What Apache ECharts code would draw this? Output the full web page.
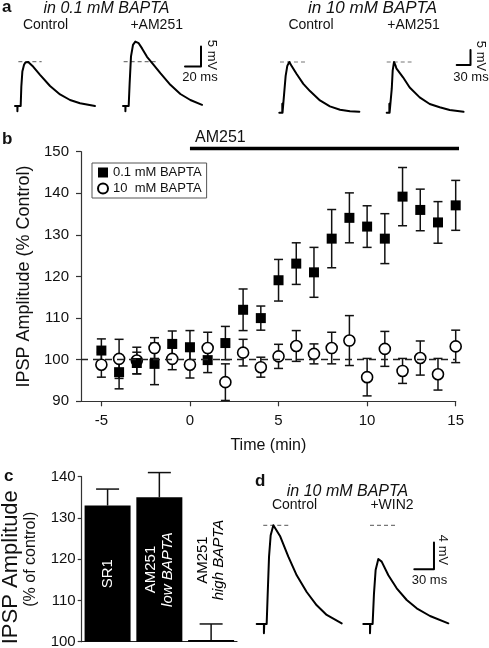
<!DOCTYPE html>
<html><head><meta charset="utf-8">
<script src="https://cdn.jsdelivr.net/npm/echarts@6/dist/echarts.min.js"></script>
<style>html,body{margin:0;padding:0;background:#fff}#c{width:489px;height:648px}</style>
</head><body><div id="c"></div>
<script>
const FONT = 'Liberation Sans, Arial, Helvetica, sans-serif';

// ---------- Panel b data ----------
const timeMin = [-5,-4,-3,-2,-1,0,1,2,3,4,5,6,7,8,9,10,11,12,13,14,15];
const lowBaptaMean = [102.2,97,99.2,99,103.8,103,99.9,104,112,110,119.1,123.1,121,129.1,134.1,132,129.1,139.2,136,133,137.1];
const lowBaptaErr  = [2.8,4,2.6,5,3.1,4,3,4,5,2.9,5,5,6,7,6,5,6,7,5,5,6];
const highBaptaMean = [98.8,100.2,99.8,102.8,100.2,98.8,102.8,94.6,101.7,98.2,100.8,103.3,101.4,102.8,104.6,95.8,102.6,97.3,100.4,96.5,103.2];
const highBaptaErr  = [3,4.7,3.2,2.5,2.6,3.2,3.8,4.4,3.2,2.4,2.9,3.7,2.4,3.8,6,4.5,4.2,3,4.1,3.8,3.9];
const timeTicks = [-5,0,5,10,15];
const am251Period = [0, 15.35];   // drug application (min)
const seriesNames = ['0.1 mM BAPTA', '10  mM BAPTA'];

// ---------- Panel c data ----------
const barCategories = ['SR1', 'AM251\nlow BAPTA', 'AM251\nhigh BAPTA'];
const barMean = [133, 135, 100.4];
const barErr = [4, 6, 3.9];

// ---------- Traces [ms, mV] ----------
const traceCtrlLow = [[0,0],[3,0],[3,-1.3],[3.2,0],[7.1,0],[7.9,4.8],[9.2,8.6],[11.3,10.3],[13,10.9],[14.6,11.1],[16.5,11],[18.8,10.7],[22.9,9.8],[31.3,7.8],[43.8,5.0],[56.3,2.9],[68.8,1.5],[81.3,0.7],[100,0]];
const traceAm251Low = [[0,0],[3,0],[3,-1.3],[3.2,0],[7.1,0],[8.3,5.7],[10,12.4],[12.5,15.3],[15.4,16.1],[19.6,15.7],[23.8,14.4],[30,12.3],[38.3,10.3],[46.7,8.2],[59.2,5.3],[71.7,3.0],[84.2,1.5],[98.8,0.3]];
const dashCtrlLow = [[4.2,11.1],[33.3,11.1]];
const dashAm251Low = [[0.8,11.1],[41.7,11.1]];
const scaleLow = [[0,0],[20,0],[20,5]];

const traceCtrlHigh = [[0,0],[6.5,0],[6.5,3],[7,0],[10.2,0],[13.8,12.3],[17.4,15.6],[21.7,16.9],[26.8,15.6],[37.7,12.9],[52.2,9.6],[66.7,7.2],[88.4,4.1],[110,2.1],[132,1.0],[153.7,0.5],[174,0.3]];
const traceAm251High = [[0,0],[5.8,0],[5.8,3],[6.3,0],[8.7,0],[11,8],[13,14],[15.9,16.9],[19,15.8],[21,14.8],[35.5,11.8],[50,8.4],[71.7,5.1],[93.5,2.9],[115.2,1.8],[137,0.9],[167,0.3]];
const dashCtrlHigh = [[1.5,16.9],[59.6,16.9]];
const dashAm251High = [[0,16.9],[54,16.9]];
const scaleHigh = [[0,0],[30,0],[30,5]];

const traceCtrlD = [[0,0],[11,0],[11,-1.4],[11.5,0],[15.2,0],[16.8,4.6],[18.8,10.1],[21.3,13.3],[25.4,14.8],[27.9,14.6],[35.5,13.2],[48.2,10.1],[61,7.3],[76.2,4.8],[91.5,2.8],[106.7,1.35],[129.6,0.1]];
const traceWin2 = [[0,0],[10.2,0],[10.2,-1.4],[10.7,0],[14.2,0],[16.3,4.6],[18.8,8.1],[22.9,9.75],[28,9.35],[38.2,7.3],[50.9,5.35],[66.2,3.6],[81.4,2.35],[101.7,1.2],[129.6,0.1]];
const dashCtrlD = [[10,14.8],[50.8,14.8]];
const dashWin2 = [[10.2,14.8],[48.3,14.8]];
const scaleD = [[0,0],[30,0],[30,4]];

// ---------- build ----------
const grid = [], xAxis = [], yAxis = [], series = [];
const axisLineStyle = {color:'#333', width:1.2};

function errRender(capHalf, upOnly) {
  return function (params, api) {
    const x = api.value(0), m = api.value(1), e = api.value(2);
    const top = api.coord([x, m + e]);
    const bot = api.coord([x, upOnly ? m : m - e]);
    const style = {stroke:'#111', lineWidth:1.5, fill:null};
    const ch = [
      {type:'line', shape:{x1:top[0], y1:top[1], x2:bot[0], y2:bot[1]}, style},
      {type:'line', shape:{x1:top[0]-capHalf, y1:top[1], x2:top[0]+capHalf, y2:top[1]}, style}
    ];
    if (!upOnly) ch.push({type:'line', shape:{x1:bot[0]-capHalf, y1:bot[1], x2:bot[0]+capHalf, y2:bot[1]}, style});
    return {type:'group', children:ch};
  };
}

// Panel b (grid 0)
grid.push({left:81, top:151.7, width:374.7, height:249.6, outerBoundsMode:'none'});
xAxis.push({gridIndex:0, type:'value', min:-6.15, max:15,
  axisLine:{show:true, onZero:false, lineStyle:axisLineStyle},
  axisTick:{show:true, customValues:timeTicks, length:5, lineStyle:axisLineStyle},
  axisLabel:{customValues:timeTicks, fontSize:15, margin:12, color:'#111', fontFamily:FONT},
  splitLine:{show:false},
  name:'Time (min)', nameLocation:'middle', nameGap:36,
  nameTextStyle:{fontSize:16, color:'#111', fontFamily:FONT}});
yAxis.push({gridIndex:0, type:'value', min:90, max:150, interval:10,
  axisLine:{show:true, onZero:false, lineStyle:axisLineStyle},
  axisTick:{show:true, length:5, lineStyle:axisLineStyle},
  axisLabel:{fontSize:15, margin:12, color:'#111', fontFamily:FONT},
  splitLine:{show:false},
  name:'IPSP Amplitude (% Control)', nameLocation:'middle', nameGap:46,
  nameTextStyle:{fontSize:18, color:'#111', fontFamily:FONT}});

series.push({type:'custom', xAxisIndex:0, yAxisIndex:0, z:2, renderItem:errRender(4.5, false),
  data: timeMin.map((t,i)=>[t, highBaptaMean[i], highBaptaErr[i]]),
  markLine:{silent:true, symbol:['none','none'], label:{show:false},
    lineStyle:{type:[7,5], color:'#222', width:1.3, opacity:1}, data:[{yAxis:100}]}});
series.push({type:'custom', xAxisIndex:0, yAxisIndex:0, z:2, renderItem:errRender(4.5, false),
  data: timeMin.map((t,i)=>[t, lowBaptaMean[i], lowBaptaErr[i]])});
series.push({type:'scatter', name:seriesNames[1], xAxisIndex:0, yAxisIndex:0, z:3,
  symbol:'circle', symbolSize:11,
  itemStyle:{color:'#fff', borderColor:'#000', borderWidth:1.6, opacity:1},
  data: timeMin.map((t,i)=>[t, highBaptaMean[i]])});
series.push({type:'scatter', name:seriesNames[0], xAxisIndex:0, yAxisIndex:0, z:4,
  symbol:'rect', symbolSize:10, itemStyle:{color:'#000', opacity:1},
  data: timeMin.map((t,i)=>[t, lowBaptaMean[i]])});
series.push({type:'line', xAxisIndex:0, yAxisIndex:0, z:5, clip:false, symbol:'none', silent:true,
  lineStyle:{color:'#000', width:3.5},
  data: am251Period.map(t=>[t, 150.75])});

// Panel c (grid 1)
grid.push({left:81.7, top:476.7, width:155.3, height:165, outerBoundsMode:'none'});
xAxis.push({gridIndex:1, type:'category', data:barCategories,
  axisLine:{show:true, lineStyle:{color:'#222', width:1.2}}, axisTick:{show:false}, axisLabel:{show:false}});
yAxis.push({gridIndex:1, type:'value', min:100, max:140, interval:10,
  axisLine:{show:true, onZero:false, lineStyle:axisLineStyle},
  axisTick:{show:true, length:4, lineStyle:axisLineStyle},
  axisLabel:{fontSize:15, margin:6, color:'#111', fontFamily:FONT},
  splitLine:{show:false},
  name:'{a|IPSP Amplitude}\n{b|(% of control)}', nameLocation:'middle', nameGap:42,
  nameTextStyle:{fontFamily:FONT, color:'#111',
    rich:{a:{fontSize:22, lineHeight:22, fontFamily:FONT, color:'#111', padding:[0,16,0,0]},
          b:{fontSize:16, lineHeight:18, fontFamily:FONT, color:'#111'}}}});

function barLabelText(cat) {
  const p = cat.split('\n');
  return p.length === 1 ? '{n|' + p[0] + '}' : '{n|' + p[0] + '}\n{i|' + p[1] + '}';
}
function labelRich(col) {
  return {n:{fontSize:15, fontFamily:FONT, color:col, lineHeight:16},
          i:{fontSize:15, fontFamily:FONT, fontStyle:'italic', color:col, lineHeight:16}};
}
series.push({type:'bar', xAxisIndex:1, yAxisIndex:1, barWidth:46, z:2,
  itemStyle:{color:'#000'},
  data: barMean.map((v,i)=>{
    const col = i < 2 ? '#fff' : '#000';
    return {
      value:v,
      label:{show:true, rotate:90, formatter:barLabelText(barCategories[i]), rich:labelRich(col),
        color:col, textBorderWidth:0,
        position: i < 2 ? 'inside' : ['50%', -80], align:'center', verticalAlign:'middle'}
    };
  })});
series.push({type:'custom', xAxisIndex:1, yAxisIndex:1, z:3, renderItem:errRender(11.5, true),
  data: barMean.map((v,i)=>[i, v, barErr[i]])});

// Trace panels
function addTraceGrid(left, baseY, pxMs, pxMv, tMax, vMin, vMax, lines) {
  const gi = grid.length;
  grid.push({left:left, top:baseY - vMax*pxMv, width:tMax*pxMs, height:(vMax - vMin)*pxMv, outerBoundsMode:'none'});
  xAxis.push({gridIndex:gi, type:'value', min:0, max:tMax, show:false});
  yAxis.push({gridIndex:gi, type:'value', min:vMin, max:vMax, show:false});
  lines.forEach(l => {
    series.push({type:'line', xAxisIndex:gi, yAxisIndex:gi, data:l.data, symbol:'none', clip:false, silent:true,
      z: l.dash ? 1 : 3,
      lineStyle: l.dash ? {color:'#777', width:1.2, type:[4,3]} : {color:'#000', width:l.w || 2, join:'round', cap:'round'}});
  });
}
// a: 0.1 mM BAPTA
addTraceGrid(15, 106, 0.8, 4, 110, -3, 20, [{data:dashCtrlLow, dash:true}, {data:traceCtrlLow}]);
addTraceGrid(123, 106, 0.8, 4, 110, -3, 20, [{data:dashAm251Low, dash:true}, {data:traceAm251Low}]);
addTraceGrid(185, 66.5, 0.8, 4, 25, -1, 6, [{data:scaleLow, w:2}]);
// a: 10 mM BAPTA
addTraceGrid(279.3, 112.7, 0.46, 3, 190, -3, 20, [{data:dashCtrlHigh, dash:true}, {data:traceCtrlHigh}]);
addTraceGrid(386.7, 112.7, 0.46, 3, 190, -3, 20, [{data:dashAm251High, dash:true}, {data:traceAm251High}]);
addTraceGrid(456.7, 65, 0.46, 3, 35, -1, 6, [{data:scaleHigh, w:2}]);
// d
addTraceGrid(256.7, 624, 0.656, 6.67, 140, -3, 17, [{data:dashCtrlD, dash:true}, {data:traceCtrlD}]);
addTraceGrid(363.3, 624, 0.656, 6.67, 140, -3, 17, [{data:dashWin2, dash:true}, {data:traceWin2}]);
addTraceGrid(414.3, 569.3, 0.656, 6.67, 35, -1, 5, [{data:scaleD, w:2}]);

// Text annotations
function txt(x, y, text, o) {
  o = o || {};
  return {type:'text', x:x, y:y, rotation:o.rot || 0, silent:true,
    style:{text:text, fontSize:o.size || 14, fontFamily:FONT, fill:'#111',
      fontStyle:o.italic ? 'italic' : 'normal', fontWeight:o.bold ? 'bold' : 'normal',
      align:o.align || 'center', verticalAlign:'middle'}};
}
const graphic = [
  txt(2, 7, 'a', {bold:true, size:17, align:'left'}),
  txt(106.5, 8.5, 'in 0.1 mM BAPTA', {italic:true, size:16}),
  txt(45.5, 25, 'Control'),
  txt(156.7, 25, '+AM251'),
  txt(212, 55, '5 mV', {size:13, rot:-Math.PI/2}),
  txt(200, 77, '20 ms', {size:13}),
  txt(372.5, 8.5, 'in 10 mM BAPTA', {italic:true, size:17}),
  txt(311, 25, 'Control'),
  txt(413.5, 25, '+AM251'),
  txt(481, 56, '5 mV', {size:13, rot:-Math.PI/2}),
  txt(471, 77, '30 ms', {size:13}),
  txt(2, 139, 'b', {bold:true, size:17, align:'left'}),
  txt(195, 138, 'AM251', {size:16, align:'left'}),
  txt(4, 476, 'c', {bold:true, size:17, align:'left'}),
  txt(255, 481, 'd', {bold:true, size:17, align:'left'}),
  txt(347.5, 492, 'in 10 mM BAPTA', {italic:true, size:16}),
  txt(294.5, 505, 'Control'),
  txt(392, 505, '+WIN2'),
  txt(443, 550, '4 mV', {size:13, rot:-Math.PI/2}),
  txt(429.5, 580, '30 ms', {size:13})
];

const chart = echarts.init(document.getElementById('c'), null, {renderer:'canvas'});
chart.setOption({
  animation:false,
  backgroundColor:'#fff',
  textStyle:{fontFamily:FONT},
  legend:{data:[{name:seriesNames[0], icon:'rect'}, {name:seriesNames[1], icon:'circle'}],
    orient:'vertical', left:92, top:163, itemWidth:10, itemHeight:10, itemGap:3,
    padding:[3,5,3,5], borderColor:'#555', borderWidth:1, selectedMode:false,
    textStyle:{fontSize:13, color:'#111', fontFamily:FONT}},
  grid, xAxis, yAxis, series, graphic
});
</script></body></html>
